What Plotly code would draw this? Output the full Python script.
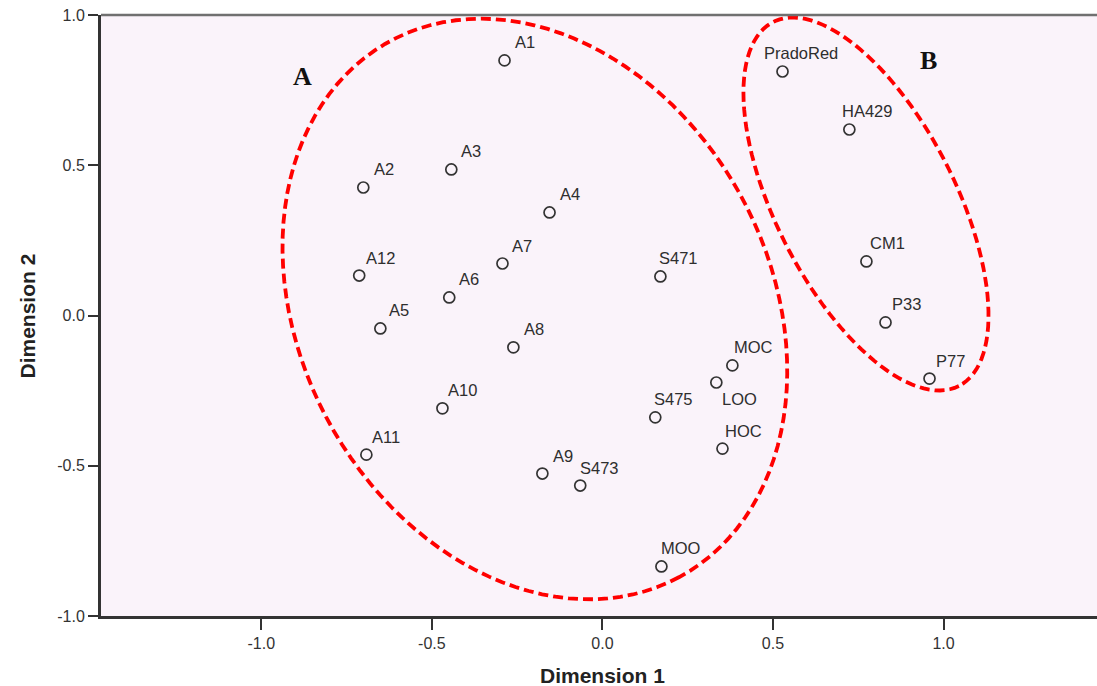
import numpy as np
import plotly.graph_objects as go

# ---- data ----
labels = ["A1", "A2", "A3", "A4", "A5", "A6", "A7", "A8", "A9", "A10", "A11", "A12",
          "S471", "S473", "S475", "MOC", "LOO", "HOC", "MOO",
          "PradoRed", "HA429", "CM1", "P33", "P77"]
dim1 = [-0.287, -0.701, -0.443, -0.155, -0.651, -0.449, -0.293, -0.261, -0.176, -0.469, -0.692, -0.713,
        0.170, -0.065, 0.155, 0.381, 0.334, 0.352, 0.173,
        0.528, 0.724, 0.774, 0.830, 0.959]
dim2 = [0.849, 0.426, 0.486, 0.343, -0.043, 0.060, 0.173, -0.106, -0.526, -0.309, -0.463, 0.133,
        0.130, -0.566, -0.339, -0.166, -0.223, -0.443, -0.835,
        0.812, 0.619, 0.180, -0.023, -0.210]
tick_vals = [-1.0, -0.5, 0.0, 0.5, 1.0]
tick_text = ["-1.0", "-0.5", "0.0", "0.5", "1.0"]
x_title = "Dimension 1"
y_title = "Dimension 2"
group_letters = ["A", "B"]
group_letter_pos = [(-0.880, 0.795), (0.956, 0.849)]

# ---- label placement style (pixel shifts from each marker) ----
label_dx = {"A1": 8, "A2": 9, "A3": 8, "A4": 8, "A5": 7, "A6": 8, "A7": 8, "A8": 9, "A9": 9,
            "A10": 4, "A11": 4, "A12": 5, "S471": -3, "S473": -2, "S475": -3, "MOC": 0,
            "LOO": 4, "HOC": 1, "MOO": -2, "PradoRed": -21, "HA429": -9, "CM1": 2,
            "P33": 4, "P77": 4}
label_dy = {"LOO": -16}

# ---- group outlines (hand-drawn ellipses: centre + affine axes) ----
def ellipse_path(cx, cy, ax, bx, ay, by, n=120):
    t = np.linspace(0, 2 * np.pi, n)
    xs = cx + ax * np.cos(t) + bx * np.sin(t)
    ys = cy + ay * np.cos(t) + by * np.sin(t)
    pts = [f"{x:.4f},{y:.4f}" for x, y in zip(xs, ys)]
    return "M " + " L ".join(pts) + " Z"

ellipse_A = (-0.198, 0.0216, 0.4235, -0.6067, -0.892, -0.371)
ellipse_B = (0.7727, 0.371, 0.2723, -0.2343, -0.6056, -0.1357)

fig = go.Figure()
fig.add_trace(go.Scatter(
    x=dim1, y=dim2, mode="markers",
    marker=dict(symbol="circle-open", size=11, color="#333333", line=dict(width=1.7)),
    hoverinfo="text", text=labels, showlegend=False,
))

annotations = []
for lab, x, y in zip(labels, dim1, dim2):
    annotations.append(dict(
        x=x, y=y, xref="x", yref="y", text=lab, showarrow=False,
        xanchor="left", yanchor="middle",
        xshift=label_dx.get(lab, 5), yshift=label_dy.get(lab, 18),
        font=dict(family="Liberation Sans, Arial", size=16.5, color="#2e2e2e"),
    ))
for letter, (gx, gy) in zip(group_letters, group_letter_pos):
    annotations.append(dict(
        x=gx, y=gy, xref="x", yref="y", text=f"<b>{letter}</b>", showarrow=False,
        xanchor="center", yanchor="middle",
        font=dict(family="Liberation Serif, Times New Roman", size=26, color="#111111"),
    ))
# axis titles
annotations.append(dict(
    x=0.0, y=-0.0998, xref="x", yref="paper", text=f"<b>{x_title}</b>", showarrow=False,
    xanchor="center", yanchor="middle",
    font=dict(family="Liberation Sans, Arial", size=21, color="#222222"),
))
annotations.append(dict(
    x=-0.0733, y=0.5, xref="paper", yref="paper", text=f"<b>{y_title}</b>", showarrow=False,
    xanchor="center", yanchor="middle", textangle=-90,
    font=dict(family="Liberation Sans, Arial", size=21, color="#222222"),
))

shapes = []
for ell in (ellipse_A, ellipse_B):
    shapes.append(dict(type="path", path=ellipse_path(*ell), xref="x", yref="y",
                       line=dict(color="#FF0000", width=3.8, dash="10px,5px"),
                       layer="above"))
shapes.append(dict(type="line", xref="paper", yref="paper", x0=0, x1=1, y0=1, y1=1,
                   line=dict(color="#707070", width=2.5)))

fig.update_layout(
    width=1097, height=686,
    margin=dict(l=101, r=0, t=15, b=70, autoexpand=False),
    paper_bgcolor="white",
    plot_bgcolor="#FAF3FA",
    annotations=annotations,
    shapes=shapes,
    font=dict(family="Liberation Sans, Arial", color="#333333"),
)
fig.update_xaxes(
    range=[-1.47, 1.45], tickvals=tick_vals, ticktext=tick_text, automargin=False,
    showgrid=False, zeroline=False, showline=True, linecolor="#333333", linewidth=2.5,
    ticks="outside", ticklen=11, tickwidth=2, tickcolor="#333333",
    tickfont=dict(size=16, color="#333333"),
)
fig.update_yaxes(
    range=[-1.0, 1.0], tickvals=tick_vals, ticktext=tick_text, automargin=False,
    showgrid=False, zeroline=False, showline=True, linecolor="#333333", linewidth=3,
    ticks="outside", ticklen=10, tickwidth=2, tickcolor="#333333",
    tickfont=dict(size=16, color="#333333"),
)

fig.write_html(
    "out.html",
    config={"displayModeBar": False},
    post_script="document.body.style.margin='0';document.body.style.overflow='hidden';",
)
